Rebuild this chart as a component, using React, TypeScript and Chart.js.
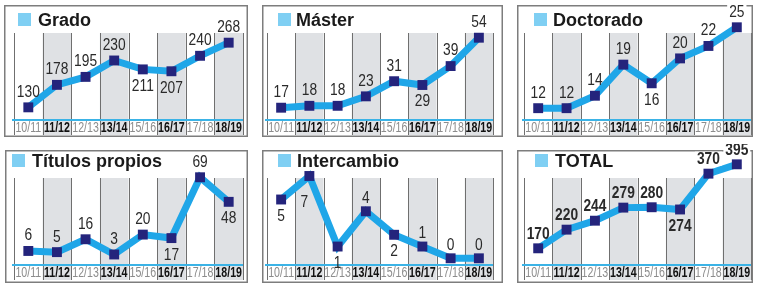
import React, { useEffect, useRef } from 'react';
import { Chart, registerables } from 'chart.js';

Chart.register(...registerables);

// ---------- DATA ----------
const SEASONS = ['10/11', '11/12', '12/13', '13/14', '15/16', '16/17', '17/18', '18/19'];
const GRADO = [130, 178, 195, 230, 211, 207, 240, 268];
const MASTER = [17, 18, 18, 23, 31, 29, 39, 54];
const DOCTORADO = [12, 12, 14, 19, 16, 20, 22, 25];
const TITULOS = [6, 5, 16, 3, 20, 17, 69, 48];
const INTERCAMBIO = [5, 7, 1, 4, 2, 1, 0, 0];
const TOTAL = [170, 220, 244, 279, 280, 274, 370, 395];
const TITLES = ['Grado', 'Máster', 'Doctorado', 'Títulos propios', 'Intercambio', 'TOTAL'];
const SERIES = [GRADO, MASTER, DOCTORADO, TITULOS, INTERCAMBIO, TOTAL];
// value axis ranges per panel
const Y_MIN = [103, 10.5, 10.1, -6, -0.57, 125.3];
const Y_MAX = [342, 69.7, 28.1, 90.6, 9.04, 428];
// label placement: a = above, b = below, bl = below-left
const GRADO_POS = ['a', 'a', 'a', 'a', 'b', 'b', 'a', 'a'];
const MASTER_POS = ['a', 'a', 'a', 'a', 'a', 'b', 'a', 'a'];
const DOCTORADO_POS = ['a', 'a', 'a', 'a', 'b', 'a', 'a', 'a'];
const TITULOS_POS = ['a', 'a', 'a', 'a', 'a', 'b', 'a', 'b'];
const INTERCAMBIO_POS = ['b', 'bl', 'b', 'a', 'b', 'a', 'a', 'a'];
const TOTAL_POS = ['a', 'a', 'a', 'a', 'a', 'b', 'a', 'a'];
const POSITIONS = [GRADO_POS, MASTER_POS, DOCTORADO_POS, TITULOS_POS, INTERCAMBIO_POS, TOTAL_POS];

// ---------- LAYOUT / STYLE ----------
const M = 6; // canvas margin around each panel border
const ROW1 = { top: 5, bottom: 137, areaTop: 8, colTop: 33, base: 120, tickB: 135, titleBase: 21 };
const ROW2 = { top: 150, bottom: 283, areaTop: 152, colTop: 178, base: 265, tickB: 280, titleBase: 17 };
const PANELS = [
  { ...ROW1, left: 4, right: 248, colL: 14, colR: 243, sqX: 14, txX: 34, above: -16 },
  { ...ROW1, left: 262, right: 503, colL: 267, colR: 493, sqX: 16, txX: 34, above: -16 },
  { ...ROW1, left: 517, right: 753, colL: 524, colR: 751, sqX: 17, txX: 36, above: -16 },
  { ...ROW2, left: 5, right: 248, colL: 14, colR: 243, sqX: 7, txX: 27, above: -16 },
  { ...ROW2, left: 262, right: 503, colL: 267, colR: 493, sqX: 16, txX: 35, above: -14 },
  { ...ROW2, left: 517, right: 753, colL: 524, colR: 751, sqX: 18, txX: 38, above: -15 },
];

const LINE_BLUE = '#1fa6e8';
const NAVY = '#24247c';
const SQUARE_BLUE = '#7fcff3';
const COL_GRAY = '#dfe1e4';
const COL_LINE = '#6f6f6f';
const BORDER = '#7d7d7d';
const SANS = '"Liberation Sans", Arial, Helvetica, sans-serif';

function condensedText(ctx: CanvasRenderingContext2D, text: string, x: number, y: number, sx: number) {
  ctx.save();
  ctx.translate(x, y);
  ctx.scale(sx, 1);
  ctx.fillText(text, 0, 0);
  ctx.restore();
}

function Panel({ idx }: { idx: number }) {
  const ref = useRef<HTMLCanvasElement | null>(null);
  const p = PANELS[idx];
  const w = p.right - p.left + 2 * M;
  const h = p.bottom - p.top + 2 * M;

  useEffect(() => {
    const canvas = ref.current;
    if (!canvas) return;
    const isTotal = idx === 5;
    const positions = POSITIONS[idx];
    const oy = (v: number) => v - p.top + M;

    const panelPlugin = {
      id: 'panelDeco',
      beforeDraw(chart: any) {
        const ctx = chart.ctx;
        const xs = chart.scales.x;
        const n = chart.data.labels.length;
        const step = (xs.right - xs.left) / n;
        const colTop = oy(p.colTop);
        const bottom = xs.bottom;
        ctx.save();
        ctx.fillStyle = COL_GRAY;
        for (let i = 0; i < n; i++) {
          if (i % 2 === 1) ctx.fillRect(xs.left + i * step, colTop, step, bottom - colTop);
        }
        ctx.strokeStyle = COL_LINE;
        ctx.lineWidth = 1;
        ctx.beginPath();
        for (let i = 0; i <= n; i++) {
          const x0 = Math.round(xs.left + i * step) + 0.5;
          ctx.moveTo(x0, colTop);
          ctx.lineTo(x0, bottom);
        }
        ctx.stroke();
        // cyan baseline
        ctx.fillStyle = '#3bb3e6';
        ctx.fillRect(xs.left - 2, chart.chartArea.bottom - 1, xs.right - xs.left + 2, 2);
        // panel border
        ctx.strokeStyle = BORDER;
        ctx.lineWidth = 1.5;
        ctx.strokeRect(M + 0.75, M + 0.75, chart.width - 2 * M - 1.5, chart.height - 2 * M - 1.5);
        // title
        ctx.fillStyle = SQUARE_BLUE;
        ctx.fillRect(M + p.sqX, M + p.titleBase - 13, 13, 13);
        ctx.fillStyle = '#1a1a1a';
        ctx.font = `bold 18px ${SANS}`;
        ctx.textAlign = 'left';
        ctx.textBaseline = 'alphabetic';
        ctx.fillText(TITLES[idx], M + p.txX, M + p.titleBase);
        // category tick labels (condensed)
        ctx.textAlign = 'center';
        ctx.textBaseline = 'middle';
        const ty = (chart.chartArea.bottom + xs.bottom) / 2 + 1;
        chart.data.labels.forEach((lab: string, i: number) => {
          const bold = i % 2 === 1;
          ctx.font = `${bold ? 'bold ' : ''}14px ${SANS}`;
          ctx.fillStyle = bold ? '#111111' : '#8c8c8c';
          condensedText(ctx, lab, xs.getPixelForTick(i), ty, 0.76);
        });
        ctx.restore();
      },
      afterDatasetsDraw(chart: any) {
        const ctx = chart.ctx;
        const meta = chart.getDatasetMeta(0);
        const data = chart.data.datasets[0].data;
        const colTop = oy(p.colTop);
        ctx.save();
        ctx.font = `${isTotal ? 'bold ' : ''}16px ${SANS}`;
        ctx.textAlign = 'center';
        ctx.textBaseline = 'middle';
        meta.data.forEach((pt: any, i: number) => {
          const pos = positions[i];
          let dx = 0;
          let dy = p.above;
          if (pos === 'b') dy = 16;
          if (pos === 'bl') { dy = 26; dx = -5; }
          const tx = pt.x + dx;
          const ty = pt.y + dy;
          const txt = String(data[i]);
          if (ty + 7 < colTop) {
            const tw = ctx.measureText(txt).width * 0.86;
            ctx.fillStyle = '#ffffff';
            ctx.fillRect(tx - tw / 2 - 2, ty - 7, tw + 4, 14);
          }
          ctx.fillStyle = '#2a2a2a';
          condensedText(ctx, txt, tx, ty + 1, 0.86);
        });
        ctx.restore();
      },
    };

    const chart = new Chart(canvas, {
      type: 'line',
      data: {
        labels: SEASONS,
        datasets: [
          {
            data: SERIES[idx],
            borderColor: LINE_BLUE,
            borderWidth: 7,
            borderJoinStyle: 'miter',
            tension: 0,
            pointStyle: 'rect',
            pointRadius: 7,
            pointBackgroundColor: NAVY,
            pointBorderColor: NAVY,
            pointBorderWidth: 0,
            clip: false,
          } as any,
        ],
      },
      options: {
        animation: false,
        responsive: false,
        maintainAspectRatio: false,
        events: [],
        layout: {
          padding: {
            left: p.colL - p.left + M,
            right: p.right - p.colR + M,
            top: p.areaTop - p.top + M,
            bottom: p.bottom - p.tickB + M,
          },
        },
        plugins: {
          legend: { display: false },
          tooltip: { enabled: false },
          title: { display: false },
        },
        scales: {
          x: {
            type: 'category',
            offset: true,
            grid: { display: false, drawTicks: false },
            border: { display: false },
            ticks: { display: false, autoSkip: false },
            afterFit: (s: any) => {
              s.height = p.tickB - p.base;
            },
          } as any,
          y: {
            display: false,
            min: Y_MIN[idx],
            max: Y_MAX[idx],
          },
        },
      },
      plugins: [panelPlugin],
    });
    return () => chart.destroy();
  }, [idx]);

  return (
    <canvas
      ref={ref}
      width={w}
      height={h}
      style={{ position: 'absolute', left: p.left - M, top: p.top - M, width: w, height: h, display: 'block' }}
    />
  );
}

export default function App() {
  return (
    <div
      style={{
        position: 'absolute',
        left: 0,
        top: 0,
        width: 758,
        height: 287,
        background: '#ffffff',
        overflow: 'hidden',
      }}
    >
      {PANELS.map((_, i) => (
        <Panel key={i} idx={i} />
      ))}
    </div>
  );
}
